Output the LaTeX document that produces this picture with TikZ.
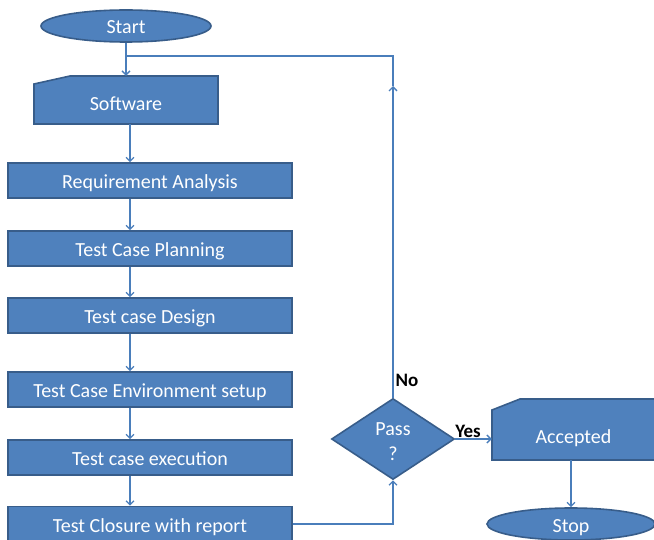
\documentclass[tikz,border=0pt]{standalone}
\usepackage{fontspec}
\setmainfont{Carlito}
\usetikzlibrary{arrows.meta,shapes.geometric,calc}
\definecolor{fillb}{HTML}{4F81BD}
\definecolor{edgeb}{HTML}{385D8A}
\definecolor{lineb}{HTML}{4A7EBB}
\begin{document}
\begin{tikzpicture}[x=1pt,y=-1pt,
  shapefill/.style={draw=edgeb, line width=1.6pt, fill=fillb},
  txt/.style={text=white, font=\fontsize{20}{24}\selectfont, inner sep=0pt, text height=16pt, text depth=0pt},
  box/.style={shapefill, txt, minimum width=284pt, minimum height=35pt},
  term/.style={ellipse, shapefill, txt, minimum width=170pt, minimum height=32pt},
  decision/.style={diamond, shapefill, inner sep=0pt, minimum width=123pt, minimum height=81pt},
  dtxt/.style={text=white, inner sep=0pt, align=center, font=\fontsize{20}{25}\selectfont},
  conn/.style={draw=lineb, line width=1.3pt},
  arr/.style={conn, -{Straight Barb[length=4pt,width=8pt]}},
  lbl/.style={text=black, font=\bfseries\fontsize{19}{22}\selectfont, inner sep=0pt}
]
\useasboundingbox (0,0) rectangle (654,540);

% manual input shapes
\path[shapefill] (34,124) -- (34,84) -- (70,76) -- (218,76) -- (218,124) -- cycle;
\path[shapefill] (492,460) -- (492,410) -- (520,399) -- (655,399) -- (655,460) -- cycle;

\node[term] (start) at (126,26) {Start};
\node[minimum width=184pt, minimum height=48pt, inner sep=0pt,
      label={[txt, yshift=-2.5pt]center:Software}] (sw) at (126,100) {};

\node[box] (req)  at (150,180.5) {Requirement Analysis};
\node[box] (plan) at (150,248.5) {Test Case Planning};
\node[box] (des)  at (150,315.5) {Test case Design};
\node[box] (env)  at (150,389.5) {Test Case Environment setup};
\node[box] (exe)  at (150,457.5) {Test case execution};
\node[box] (clo)  at (150,524) {Test Closure with report};

\node[decision, label={[dtxt, yshift=-3pt]center:Pass\\?}] (dia) at (393,439) {};
\node[minimum width=163pt, minimum height=61pt, inner sep=0pt,
      label={[txt, yshift=-6pt]center:Accepted}] (acc) at (573.5,429.5) {};
\node[term, minimum width=168pt] (stop) at (571,524) {Stop};

\node[lbl] (no)  at (407,380) {No};
\node[lbl] (yes) at (468,431) {Yes};

\coordinate (col) at (130,0);
\coordinate (nomid) at (393,86);
\coordinate (nocorner) at (393,56);
\coordinate (join) at (126,56);

\draw[arr] (start.south) -- (sw.north);
\draw[arr] (col |- sw.south) -- (col |- req.north);
\draw[arr] (col |- req.south) -- (col |- plan.north);
\draw[arr] (col |- plan.south) -- (col |- des.north);
\draw[arr] (col |- des.south) -- (col |- env.north);
\draw[arr] (col |- env.south) -- (col |- exe.north);
\draw[arr] (col |- exe.south) -- (col |- clo.north);
\draw[arr] (clo.east) -- (clo.east -| dia.south) -- (dia.south);
\draw[arr] (dia.north) -- (nomid);
\draw[conn] (nomid) -- (nocorner) -- (join);
\draw[arr] (dia.east) -- (dia.east -| acc.west);
\draw[arr] (acc.south -| stop.north) -- (stop.north);
\end{tikzpicture}
\end{document}
